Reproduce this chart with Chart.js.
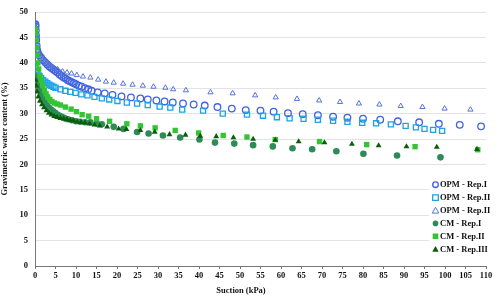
<!DOCTYPE html>
<html>
<head>
<meta charset="utf-8">
<script src="https://cdn.jsdelivr.net/npm/chart.js@4"></script>
<style>
  html, body { margin: 0; padding: 0; background: #fff; }
  #wrap { width: 500px; height: 300px; }
</style>
</head>
<body>
<div id="wrap"><canvas id="soilChart" width="500" height="300"></canvas></div>
<script>
// ---------- data (suction kPa / gravimetric water content %) ----------
const seriesNames = ['OPM - Rep.I', 'OPM - Rep.II', 'OPM - Rep.II', 'CM - Rep.I', 'CM - Rep.II', 'CM - Rep.III'];

const opm1X = [0.1, 0.15, 0.2, 0.25, 0.3, 0.4, 0.5, 0.7, 1, 1.5, 2, 2.5, 3, 3.5, 4, 4.5, 5, 5.5, 6, 6.5, 7, 7.5, 8, 8.5, 9, 9.5, 10, 10.7, 11.4, 12.2, 13, 13.8,
  15.3, 17.0, 18.9, 21.1, 23.4, 25.7, 27.5, 29.6, 31.6, 33.6, 36.1, 38.7, 41.4, 44.5, 48.0, 51.4, 55.0, 58.2, 61.7, 65.3, 69.0, 72.7, 76.2, 80.0, 84.2, 88.5, 93.7, 98.5, 103.6, 108.8];
const opm1Y = [47.6, 47.2, 46.4, 45.4, 44.5, 43.4, 42.6, 42.0, 41.5, 41.0, 40.5, 40.1, 39.7, 39.3, 39.0, 38.7, 38.4, 38.1, 37.7, 37.4, 37.1, 36.9, 36.6, 36.4, 36.2, 36.0, 35.8, 35.5, 35.3, 35.0, 34.8, 34.5,
  34.2, 34.0, 33.7, 33.4, 33.2, 33.0, 32.8, 32.6, 32.4, 32.2, 32.0, 31.8, 31.6, 31.3, 31.0, 30.7, 30.6, 30.4, 30.1, 29.9, 29.7, 29.4, 29.2, 29.0, 28.8, 28.5, 28.3, 28.0, 27.8, 27.5];

const opm2X = [0.1, 0.3, 0.6, 1, 1.5, 2, 2.5, 3, 3.5, 4, 4.5, 5, 6.2, 7.4, 8.6, 9.9, 11.3, 12.8, 14.5, 16.3, 18.1, 20.1, 22.4, 24.9, 27.5, 30.4, 33.0, 35.9, 41.0, 45.8,
  51.7, 55.6, 59.0, 62.1, 65.5, 69.0, 72.7, 76.2, 79.8, 83.2, 86.8, 90.4, 92.9, 95.0, 97.1, 99.3];
const opm2Y = [39.0, 38.5, 38.0, 37.5, 37.0, 36.6, 36.3, 36.0, 35.7, 35.5, 35.3, 35.1, 34.8, 34.5, 34.3, 34.1, 33.8, 33.6, 33.3, 33.0, 32.8, 32.5, 32.2, 32.0, 31.7, 31.4, 31.2, 30.8, 30.6, 30.0,
  29.8, 29.6, 29.3, 29.1, 29.0, 28.8, 28.6, 28.4, 28.2, 28.1, 27.9, 27.6, 27.3, 27.0, 26.8, 26.6];

const opm3X = [0.1, 0.2, 0.3, 0.4, 0.5, 0.7, 1, 1.5, 2, 2.5, 3, 3.5, 4, 4.5, 5.5, 6.7, 7.8, 8.9, 10.2, 11.7, 13.5, 15.4, 17.3, 19.2, 21.5, 23.8, 26.3, 28.9, 31.8, 33.7, 36.8,
  42.8, 48.2, 53.7, 58.7, 63.9, 69.3, 74.4, 79.0, 84.0, 89.2, 94.5, 99.9, 106.2];
const opm3Y = [47.8, 47.0, 45.5, 44.0, 43.0, 42.2, 41.6, 41.1, 40.7, 40.3, 40.0, 39.6, 39.3, 39.0, 38.7, 38.3, 38.1, 37.9, 37.6, 37.3, 37.1, 36.7, 36.3, 36.1, 35.9, 35.7, 35.5, 35.3, 35.1, 34.8, 34.6,
  34.2, 34.0, 33.6, 33.2, 32.9, 32.6, 32.3, 32.0, 31.8, 31.5, 31.3, 31.0, 30.8];

const cm1X = [0.1, 0.3, 0.6, 1, 1.5, 2, 2.5, 3, 3.5, 4, 4.5, 5, 5.5, 6, 6.5, 7, 7.5, 8, 9, 10, 11, 12.2, 13.5, 15.1, 16.3, 19.2, 21.6, 24.9, 27.7, 31.2, 35.4, 40.1, 43.9, 48.6,
  53.2, 58.0, 62.8, 67.6, 73.5, 80.1, 88.3, 98.9];
const cm1Y = [37.5, 36.6, 35.6, 34.6, 33.7, 32.9, 32.2, 31.6, 31.1, 30.7, 30.4, 30.1, 29.8, 29.6, 29.4, 29.2, 29.0, 28.9, 28.7, 28.5, 28.4, 28.3, 28.3, 28.05, 27.9, 27.4, 27.0, 26.4, 26.1, 25.7, 25.3, 24.9, 24.3, 24.1,
  23.8, 23.55, 23.2, 23.0, 22.6, 22.1, 21.75, 21.4];

const cm2X = [0.1, 0.2, 0.3, 0.4, 0.5, 0.7, 0.9, 1.2, 1.5, 1.9, 2.3, 2.7, 3.1, 3.6, 4.1, 4.7, 5.4, 6.2, 7.4, 8.8, 10.1, 11.5, 13.1, 15.0, 18.2, 22.4, 25.7, 29.3, 34.2, 39.9, 45.9,
  51.7, 58.6, 69.4, 80.9, 92.7, 108.0];
const cm2Y = [46.6, 45.8, 44.5, 43.0, 41.5, 40.0, 38.8, 37.5, 36.5, 35.5, 34.6, 33.9, 33.3, 32.8, 32.4, 32.1, 31.9, 31.7, 31.3, 30.9, 30.4, 29.8, 29.5, 29.0, 28.5, 28.0, 27.6, 27.2, 26.7, 26.2, 25.7,
  25.4, 24.9, 24.5, 23.9, 23.5, 22.9];

const cm3X = [0.1, 0.3, 0.5, 0.8, 1.2, 1.7, 2.2, 2.8, 3.4, 4.0, 4.7, 5.4, 6.2, 7.0, 7.8, 8.6, 9.4, 10.3, 11.2, 12.2, 13.3, 14.5, 15.8, 17.6, 20.4, 22.3, 25.7, 29.2, 32.8, 36.7,
  40.3, 44.2, 48.4, 53.2, 58.6, 64.3, 70.6, 77.3, 83.8, 90.6, 98.0, 107.8];
const cm3Y = [36.6, 35.5, 34.3, 33.3, 32.5, 31.8, 31.2, 30.6, 30.1, 29.8, 29.5, 29.3, 29.1, 29.0, 28.9, 28.7, 28.6, 28.4, 28.3, 28.2, 28.0, 27.8, 27.6, 27.4, 27.0, 26.9, 26.7, 26.4, 25.9, 25.8,
  25.6, 25.5, 25.3, 25.0, 24.8, 24.5, 24.3, 24.0, 23.7, 23.5, 23.4, 23.0];

const xTickStep = 5;
const yTickStep = 5;

// ---------- styles ----------
const styles = [
  { pointStyle: 'circle',   radius: 3.3, border: '#3f63e0', fill: 'rgba(0,0,0,0)', bw: 1.3 },
  { pointStyle: 'rect',     radius: 3.6, border: '#1aa3e8', fill: 'rgba(0,0,0,0)', bw: 1.3 },
  { pointStyle: 'triangle', radius: 3.0, border: '#5574d6', fill: 'rgba(0,0,0,0)', bw: 1.0 },
  { pointStyle: 'circle',   radius: 3.3, border: '#2e8b57', fill: '#2e8b57', bw: 0 },
  { pointStyle: 'rect',     radius: 3.8, border: '#33c433', fill: '#33c433', bw: 0 },
  { pointStyle: 'triangle', radius: 3.4, border: '#0a5e0a', fill: '#0a5e0a', bw: 0 }
];

const xs = [opm1X, opm2X, opm3X, cm1X, cm2X, cm3X];
const ys = [opm1Y, opm2Y, opm3Y, cm1Y, cm2Y, cm3Y];

const datasets = seriesNames.map((name, i) => ({
  label: name,
  data: xs[i].map((x, k) => ({ x: x, y: ys[i][k] })),
  showLine: false,
  pointStyle: styles[i].pointStyle,
  pointRadius: styles[i].radius,
  pointBorderWidth: styles[i].bw,
  pointBorderColor: styles[i].border,
  pointBackgroundColor: styles[i].fill,
  order: 6 - i
}));

const serif = '"Liberation Serif", "Times New Roman", serif';

// ---------- legend drawn inside the plot + x title ----------
const insideLegend = {
  id: 'insideLegend',
  afterDraw(chart) {
    const ctx = chart.ctx;
    ctx.save();
    ctx.fillStyle = '#fff';
    ctx.fillRect(429, 176, 70, 82);
    ctx.font = 'bold 8.5px ' + serif;
    ctx.textBaseline = 'middle';
    ctx.textAlign = 'left';
    seriesNames.forEach((name, i) => {
      const y = 184.7 + i * 12.9;
      const x = 435.5;
      const s = styles[i];
      ctx.beginPath();
      ctx.lineWidth = s.bw || 1;
      ctx.strokeStyle = s.border;
      ctx.fillStyle = s.fill;
      if (s.pointStyle === 'circle') {
        ctx.arc(x, y, 2.8, 0, Math.PI * 2);
      } else if (s.pointStyle === 'rect') {
        ctx.rect(x - 2.8, y - 2.8, 5.6, 5.6);
      } else {
        ctx.moveTo(x, y - 3.3);
        ctx.lineTo(x + 3.2, y + 2.6);
        ctx.lineTo(x - 3.2, y + 2.6);
        ctx.closePath();
      }
      if (s.bw) ctx.stroke(); else ctx.fill();
      ctx.fillStyle = '#111';
      ctx.fillText(name, 440, y + 0.5);
    });
    // x axis title (sits a little left of the plot centre in the original)
    ctx.textAlign = 'center';
    ctx.fillText('Suction (kPa)', 241, 291);
    ctx.restore();
  }
};

// ---------- chart ----------
const ctx = document.getElementById('soilChart').getContext('2d');
new Chart(ctx, {
  type: 'scatter',
  data: { datasets: datasets },
  plugins: [insideLegend],
  options: {
    responsive: false,
    animation: false,
    layout: { padding: { top: 2, right: 14, left: 0, bottom: 0 } },
    plugins: { legend: { display: false }, tooltip: { enabled: false } },
    scales: {
      x: {
        type: 'linear',
        min: 0, max: 110,
        afterFit: s => { s.height = 34; },
        ticks: { stepSize: xTickStep, color: '#111', padding: 2, maxRotation: 0,
                 font: { family: serif, size: 8.5, weight: 'bold' } },
        grid: { drawOnChartArea: false, drawTicks: true, tickLength: 3, color: '#777' },
        border: { color: '#777', width: 1 }
      },
      y: {
        min: 0, max: 50,
        afterFit: s => { s.width = 35; },
        ticks: { stepSize: yTickStep, color: '#111', padding: 7,
                 font: { family: serif, size: 8.5, weight: 'bold' } },
        grid: { color: '#e3e3e3', drawTicks: false },
        border: { color: '#777', width: 1 },
        title: { display: true, text: 'Gravimetric water content (%)', color: '#111', padding: { top: 0, bottom: 0 },
                 font: { family: serif, size: 8.5, weight: 'bold' } }
      }
    }
  }
});
</script>
</body>
</html>
